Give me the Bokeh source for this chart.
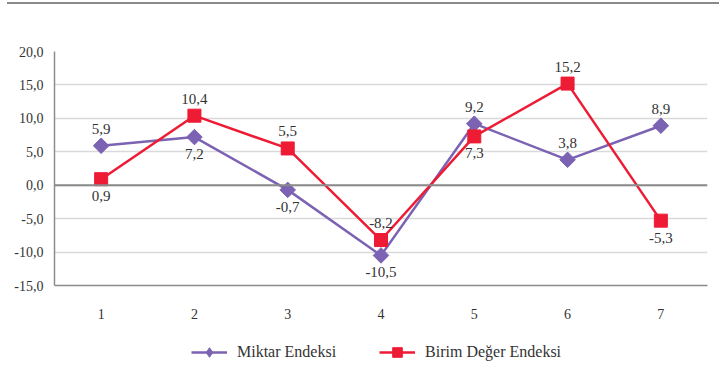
import math
from bokeh.plotting import figure
from bokeh.layouts import column
from bokeh.models import (ColumnDataSource, FixedTicker, Legend, LegendItem, Span, Div)
from bokeh.core.properties import value
from bokeh.embed import file_html
from bokeh.resources import INLINE

# --- data -------------------------------------------------------------
periods = [1, 2, 3, 4, 5, 6, 7]
miktar = [5.9, 7.2, -0.7, -10.5, 9.2, 3.8, 8.9]
birim = [0.9, 10.4, 5.5, -8.2, 7.3, 15.2, -5.3]
y_ticks = [-15, -10, -5, 0, 5, 10, 15, 20]
series_names = ["Miktar Endeksi", "Birim Değer Endeksi"]

# label placement relative to each marker (+1 above, -1 below)
miktar_side = [1, -1, -1, -1, 1, 1, 1]
birim_side = [-1, 1, 1, 1, -1, 1, -1]

PURPLE = "#7B62B2"
RED = "#EE1B35"
FONT = "Liberation Serif"
W = 719
LEFT = 54


def fmt(v):
    return f"{v:.1f}".replace(".", ",")


# --- thin rule across the top of the page -----------------------------
rule = Div(text="", width=W - 7, height=4, margin=(2, 0, 0, 7),
           styles={"border-top": "2.5px solid #8a8a8a"})

# --- main chart -------------------------------------------------------
p = figure(width=W, height=320, output_backend="svg", toolbar_location=None,
           x_range=(0.5, 7.5), y_range=(-15, 20),
           min_border_left=LEFT, min_border_right=12,
           min_border_top=45, min_border_bottom=41)
p.outline_line_color = None

p.xaxis.ticker = FixedTicker(ticks=periods)
p.yaxis.ticker = FixedTicker(ticks=y_ticks)
p.yaxis.major_label_overrides = {t: fmt(t) for t in y_ticks}
for ax in (p.xaxis[0], p.yaxis[0]):
    ax.axis_line_color = "#8c8c8c"
    ax.axis_line_width = 1.5
    ax.major_tick_line_color = None
    ax.minor_tick_line_color = None
    ax.major_label_text_font = FONT
    ax.major_label_text_font_size = "14px"
    ax.major_label_text_color = "#333333"
p.yaxis.major_label_standoff = 5
p.xaxis.major_label_standoff = 17

p.xgrid.grid_line_color = None
p.ygrid.ticker = FixedTicker(ticks=y_ticks)
p.ygrid.grid_line_color = "#d9d9d9"
p.ygrid.grid_line_width = 1.5

# zero line
p.add_layout(Span(location=0, dimension="width", line_color="#8a8a8a", line_width=2))

src_m = ColumnDataSource(dict(x=periods, y=miktar,
                              lbl=[fmt(v) for v in miktar],
                              off=[-17 if s > 0 else 17 for s in miktar_side]))
src_b = ColumnDataSource(dict(x=periods, y=birim,
                              lbl=[fmt(v) for v in birim],
                              off=[-17 if s > 0 else 17 for s in birim_side]))

DIAMOND = dict(marker="square", angle=math.pi / 4, size=11,
               fill_color=PURPLE, line_color=PURPLE)
SQUARE = dict(marker="square", size=13, fill_color=RED, line_color=RED)

p.line("x", "y", source=src_m, line_color=PURPLE, line_width=2.5)
p.scatter("x", "y", source=src_m, **DIAMOND)
p.line("x", "y", source=src_b, line_color=RED, line_width=2.5)
p.scatter("x", "y", source=src_b, **SQUARE)

for src in (src_m, src_b):
    p.text("x", "y", text="lbl", source=src, y_offset="off",
           text_align="center", text_baseline="middle",
           text_font=value(FONT), text_font_size="15px", text_color="#333333")

# --- legend strip -----------------------------------------------------
# The strip's frame lines up with the chart's frame, so the legend is
# positioned relative to x = LEFT.  Its key renderers sit outside the
# strip's visible range; only their legend glyphs show.
leg = figure(width=W, height=43, output_backend="svg", toolbar_location=None,
             title=None, x_axis_location=None, y_axis_location=None,
             x_range=(0, 1), y_range=(0, 1), min_border=0)
leg.grid.visible = False
leg.outline_line_color = None
key = ColumnDataSource(dict(x=[5, 6], y=[5, 5]))
lm = leg.line("x", "y", source=key, line_color=PURPLE, line_width=2.5)
sm = leg.scatter("x", "y", source=key, marker="diamond", size=11,
                 fill_color=PURPLE, line_color=PURPLE)
lb = leg.line("x", "y", source=key, line_color=RED, line_width=2.5)
sb = leg.scatter("x", "y", source=key, **SQUARE)
legend = Legend(items=[LegendItem(label=series_names[0], renderers=[lm, sm]),
                       LegendItem(label=series_names[1], renderers=[lb, sb])],
                orientation="horizontal", location=(191 - LEFT, 5),
                label_text_font=FONT, label_text_font_size="16px",
                label_text_color="#333333", glyph_width=36, glyph_height=24,
                spacing=43, border_line_color=None, background_fill_alpha=0,
                margin=0, padding=0, label_standoff=10)
leg.add_layout(legend, "center")

page = column(rule, p, leg, spacing=0)
open("out.html", "w").write(file_html(page, INLINE))
